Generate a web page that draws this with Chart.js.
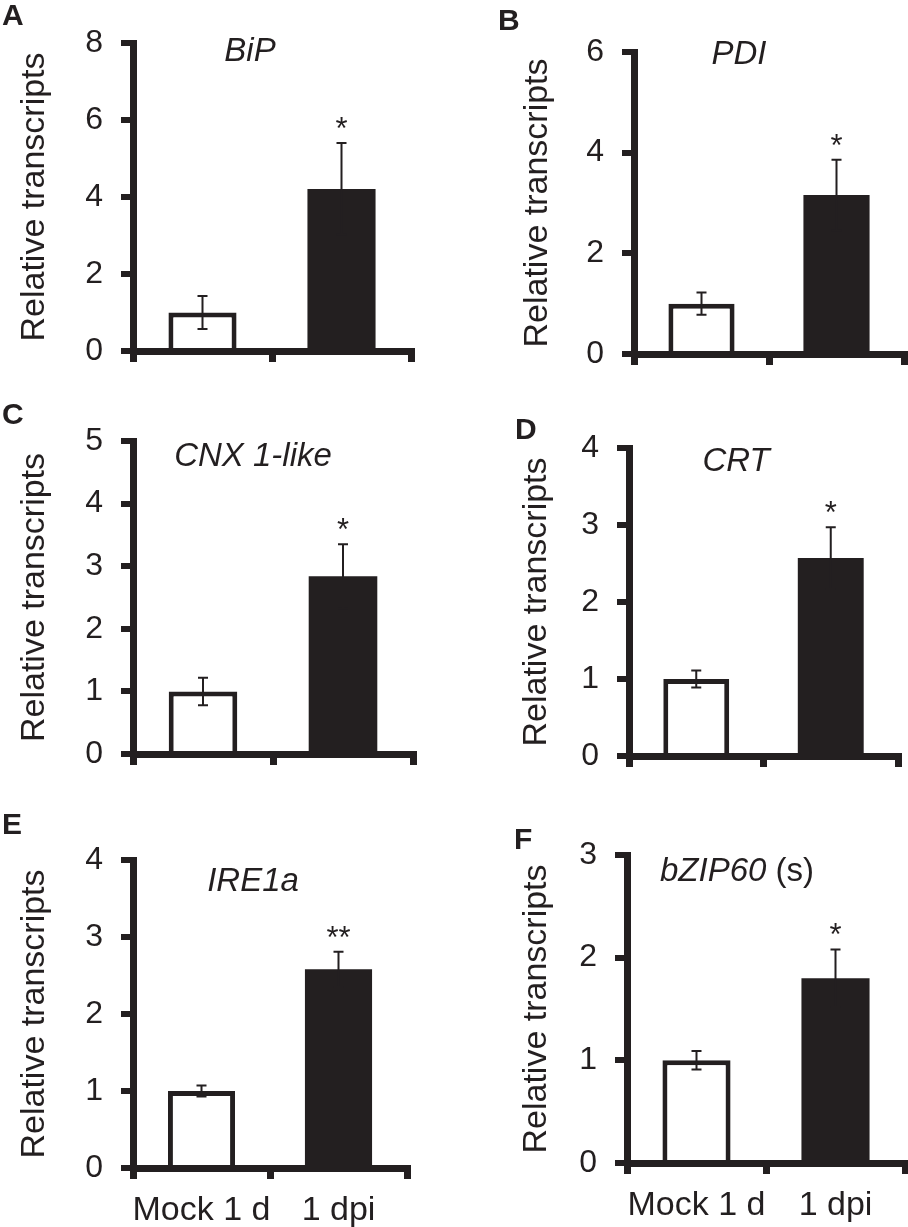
<!DOCTYPE html>
<html>
<head>
<meta charset="utf-8">
<script src="https://cdn.jsdelivr.net/npm/chart.js@4.4.1/dist/chart.umd.min.js"></script>
<style>
  html, body { margin: 0; padding: 0; background: #fff; }
  #figure { position: relative; width: 908px; height: 1227px; }
  #figure canvas { position: absolute; }
</style>
</head>
<body>
<div id="figure"></div>
<script>
// Data
const categories = ['Mock 1 d', '1 dpi'];
const panelLetters = ['A', 'B', 'C', 'D', 'E', 'F'];
const geneNames = ['BiP', 'PDI', 'CNX 1-like', 'CRT', 'IRE1a', 'bZIP60'];
const geneSuffix = ['', '', '', '', '', ' (s)'];
const mockMeans = [1.0, 1.0, 1.0, 1.0, 1.0, 1.0];
const mockErrors = [0.43, 0.22, 0.22, 0.11, 0.07, 0.09];
const dpiMeans = [4.21, 3.16, 2.84, 2.57, 2.58, 1.80];
const dpiErrors = [1.19, 0.70, 0.51, 0.40, 0.23, 0.28];
const significance = ['*', '*', '*', '*', '**', '*'];
const yMax = [8, 6, 5, 4, 4, 3];
const yStep = [2, 2, 1, 1, 1, 1];

// Layout of each panel (canvas box, plot area, decorations)
const panels = [
    { x: 0,   y: 0,   w: 454, h: 400, area: [133, 43, 411, 351], letter: [2, 17],  title: [117, 9],  yTitlePad: 14 },
    { x: 454, y: 0,   w: 454, h: 400, area: [180, 52, 450, 354], letter: [44, 22], title: [105, 3],  yTitlePad: 63 },
    { x: 0,   y: 400, w: 454, h: 400, area: [133, 41, 413, 354], letter: [2, 16],  title: [120, 16], yTitlePad: 14 },
    { x: 454, y: 400, w: 454, h: 400, area: [175, 48, 444, 356], letter: [61, 31], title: [107, 14], yTitlePad: 62 },
    { x: 0,   y: 800, w: 454, h: 427, area: [133, 60, 407, 368], letter: [2, 26],  title: [120, 22], yTitlePad: 14 },
    { x: 454, y: 800, w: 454, h: 427, area: [173, 55, 451, 363], letter: [60, 41], title: [110, 17], yTitlePad: 62 }
];

const INK = '#231f20';
const FONT = '"Liberation Sans", Arial, Helvetica, sans-serif';

// Error bars, asterisks, gene names and panel letters
const panelDecor = {
    id: 'panelDecor',
    afterDatasetsDraw(chart, args, opts) {
        const ctx = chart.ctx;
        const yScale = chart.scales.y;
        const ds = chart.data.datasets[0];
        const meta = chart.getDatasetMeta(0);
        ctx.save();
        ctx.strokeStyle = INK;
        ctx.lineWidth = 2;
        meta.data.forEach((bar, k) => {
            const v = ds.data[k];
            const e = ds.errors[k];
            const yHi = yScale.getPixelForValue(v + e);
            const yLo = yScale.getPixelForValue(v - e);
            ctx.beginPath();
            ctx.moveTo(bar.x, yHi); ctx.lineTo(bar.x, yLo);
            ctx.moveTo(bar.x - 5, yHi); ctx.lineTo(bar.x + 5, yHi);
            ctx.moveTo(bar.x - 5, yLo); ctx.lineTo(bar.x + 5, yLo);
            ctx.stroke();
        });
        // significance mark over the infected bar
        const bar = meta.data[1];
        const top = yScale.getPixelForValue(ds.data[1] + ds.errors[1]);
        ctx.fillStyle = INK;
        ctx.font = '31px ' + FONT;
        ctx.textAlign = 'center';
        ctx.textBaseline = 'alphabetic';
        ctx.fillText(opts.star, bar.x, top - 4);
        ctx.restore();
    },
    afterDraw(chart, args, opts) {
        const ctx = chart.ctx;
        const area = chart.chartArea;
        ctx.save();
        ctx.fillStyle = INK;
        ctx.textBaseline = 'middle';

        // gene name (italic) with optional plain suffix
        const italic = 'italic 33px ' + FONT;
        const plain = '33px ' + FONT;
        ctx.font = italic;
        const w1 = ctx.measureText(opts.gene).width;
        ctx.font = plain;
        const w2 = opts.suffix ? ctx.measureText(opts.suffix).width : 0;
        const cx = area.left + opts.titleX;
        const cy = area.top + opts.titleY;
        const x0 = cx - (w1 + w2) / 2;
        ctx.textAlign = 'left';
        ctx.font = italic;
        ctx.fillText(opts.gene, x0, cy);
        if (opts.suffix) {
            ctx.font = plain;
            ctx.fillText(opts.suffix, x0 + w1, cy);
        }

        // panel letter
        ctx.font = 'bold 30px ' + FONT;
        ctx.fillText(opts.letter, opts.lx, opts.ly);
        ctx.restore();
    }
};

const figure = document.getElementById('figure');

const makePanel = (i) => {
    const p = panels[i];
    const [left, top, right, bottom] = p.area;
    const canvas = document.createElement('canvas');
    canvas.width = p.w;
    canvas.height = p.h;
    canvas.style.left = p.x + 'px';
    canvas.style.top = p.y + 'px';
    figure.appendChild(canvas);

    new Chart(canvas, {
        type: 'bar',
        data: {
            labels: categories,
            datasets: [{
                data: [mockMeans[i], dpiMeans[i]],
                errors: [mockErrors[i], dpiErrors[i]],
                backgroundColor: ['#ffffff', INK],
                borderColor: INK,
                borderWidth: [5, 0],
                borderSkipped: 'start',
                categoryPercentage: 1,
                barPercentage: 0.49
            }]
        },
        options: {
            responsive: false,
            animation: false,
            devicePixelRatio: 1,
            layout: {
                padding: { top: top, right: p.w - right, left: 0, bottom: 0 }
            },
            plugins: {
                legend: { display: false },
                tooltip: { enabled: false },
                panelDecor: {
                    star: significance[i],
                    gene: geneNames[i],
                    suffix: geneSuffix[i],
                    letter: panelLetters[i],
                    lx: p.letter[0],
                    ly: p.letter[1],
                    titleX: p.title[0],
                    titleY: p.title[1]
                }
            },
            scales: {
                x: {
                    grid: {
                        display: true,
                        drawOnChartArea: false,
                        drawTicks: true,
                        tickLength: 11,
                        lineWidth: 7,
                        color: INK,
                        offset: true
                    },
                    border: { display: true, width: 7, color: INK },
                    ticks: {
                        display: i >= 4,
                        color: INK,
                        padding: 11,
                        autoSkip: false,
                        maxRotation: 0,
                        minRotation: 0,
                        font: { family: FONT, size: 34 }
                    },
                    afterFit: (scale) => { scale.height = p.h - bottom; }
                },
                y: {
                    min: 0,
                    max: yMax[i],
                    ticks: {
                        stepSize: yStep[i],
                        color: INK,
                        padding: 18,
                        font: { family: FONT, size: 32 }
                    },
                    grid: {
                        display: true,
                        drawOnChartArea: false,
                        drawTicks: true,
                        tickLength: 12,
                        lineWidth: 6,
                        color: INK
                    },
                    border: { display: true, width: 7, color: INK },
                    title: {
                        display: true,
                        text: 'Relative transcripts',
                        color: INK,
                        font: { family: FONT, size: 34 },
                        padding: { top: p.yTitlePad, bottom: 0 }
                    },
                    afterFit: (scale) => { scale.width = left; }
                }
            }
        },
        plugins: [panelDecor]
    });
};

panels.forEach((p, i) => makePanel(i));
</script>
</body>
</html>
